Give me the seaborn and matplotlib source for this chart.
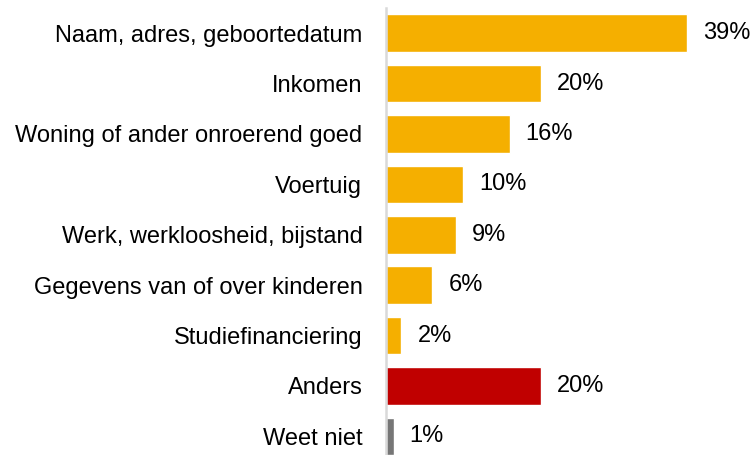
import matplotlib
matplotlib.use("Agg")
import matplotlib.pyplot as plt
import seaborn as sns
import pandas as pd

categories = ["Naam, adres, geboortedatum", "Inkomen", "Woning of ander onroerend goed",
              "Voertuig", "Werk, werkloosheid, bijstand", "Gegevens van of over kinderen",
              "Studiefinanciering", "Anders", "Weet niet"]
values = [39, 20, 16, 10, 9, 6, 2, 20, 1]
labels = ["39%", "20%", "16%", "10%", "9%", "6%", "2%", "20%", "1%"]
colors = ["#F5AF00"] * 7 + ["#C00000", "#767676"]

sns.set_theme(style="white")
plt.rcParams['font.family'] = ['Liberation Sans', 'DejaVu Sans']

FS = 17

df = pd.DataFrame({"cat": categories, "val": values})
fig = plt.figure(figsize=(7.53, 4.55), dpi=100)
ax = fig.add_axes([386/753, 0, 1 - 386/753, 1 - 8/455])
sns.barplot(data=df, x="val", y="cat", hue="cat", palette=dict(zip(categories, colors)),
            order=categories, width=0.745, legend=False, ax=ax, saturation=1)
ax.set_xlim(0, 47.5)
ax.set_ylim(8.37, -0.5)
for i, (v, lab) in enumerate(zip(values, labels)):
    ax.text(v + 16/7.72, i, lab, va="center", ha="left", fontsize=FS, color="black")
ax.set_xlabel("")
ax.set_ylabel("")
ax.set_xticks([])
ax.tick_params(axis="y", length=0, pad=17, labelsize=FS, labelcolor="black")
for s in ["top", "right", "bottom"]:
    ax.spines[s].set_visible(False)
ax.spines["left"].set_color("#d9d9d9")
ax.spines["left"].set_linewidth(1.8)
fig.savefig("out.png", dpi=100)
